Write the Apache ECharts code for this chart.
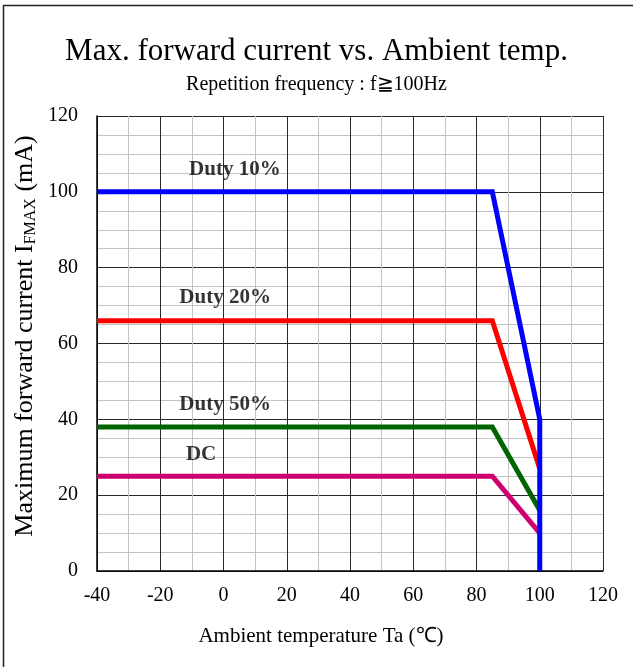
<!DOCTYPE html>
<html>
<head>
<meta charset="utf-8">
<script src="https://cdn.jsdelivr.net/npm/echarts@6/dist/echarts.min.js"></script>
<style>html,body{margin:0;padding:0;background:#fff;}#c{width:633px;height:667px;}</style>
</head>
<body>
<div id="c"></div>
<script>
const xTicks = [-40, -20, 0, 20, 40, 60, 80, 100, 120];
const yTicks = [0, 20, 40, 60, 80, 100, 120];
const duty10 = [[-40, 100], [85, 100], [100, 40], [100, 0]];
const duty20 = [[-40, 66], [85, 66], [100, 27]];
const duty50 = [[-40, 38], [85, 38], [100, 16]];
const dcData = [[-40, 25], [85, 25], [100, 10]];
const labelNames = ['Duty 10%', 'Duty 20%', 'Duty 50%', 'DC'];
const labelPos = [[3.6, 105.8], [0.5, 72], [0.5, 44], [-7.1, 30.7]];

const serif = 'Liberation Serif, Times New Roman, serif';
const chart = echarts.init(document.getElementById('c'));

function lineSeries(name, data, color) {
  return {
    name: name, type: 'line', data: data, symbol: 'none', silent: true,
    lineStyle: { color: color, width: 5, join: 'miter' }, z: 3
  };
}

chart.setOption({
  backgroundColor: '#fff',
  animation: false,
  title: [
    { text: 'Max. forward current vs. Ambient temp.', left: 'center', top: 31,
      textStyle: { fontFamily: serif, fontSize: 31, fontWeight: 'normal', color: '#000' } },
    { text: 'Repetition frequency : f≧100Hz', left: 'center', top: 70,
      textStyle: { fontFamily: serif, fontSize: 20, fontWeight: 'normal', color: '#000' } }
  ],
  graphic: [
    { type: 'polyline', shape: { points: [[3.5, 667], [3.5, 5.5], [633, 5.5]] },
      style: { fill: 'none', stroke: '#222', lineWidth: 1.5 }, silent: true },
    { type: 'text', x: 25, y: 336, rotation: Math.PI / 2, silent: true,
      style: { text: '{m|Maximum forward current I}{s|FMAX}{m| (mA)}', align: 'center', verticalAlign: 'middle',
        rich: { m: { fontFamily: serif, fontSize: 26, fill: '#000', lineHeight: 28, verticalAlign: 'middle' },
                s: { fontFamily: serif, fontSize: 16, fill: '#000', lineHeight: 28, verticalAlign: 'bottom', padding: [10, 0, 0, 0] } } } }
  ],
  grid: { left: 97, right: 30, top: 116, bottom: 96, containLabel: false },
  xAxis: {
    type: 'value', min: xTicks[0], max: xTicks[xTicks.length - 1], interval: 20,
    name: 'Ambient temperature Ta (℃)', nameLocation: 'middle', nameGap: 55,
    nameTextStyle: { fontFamily: serif, fontSize: 21, color: '#000', padding: [0, 58, 0, 0] },
    axisLine: { show: true, onZero: false, lineStyle: { color: '#000', width: 1.5 } },
    axisTick: { show: false },
    axisLabel: { fontFamily: serif, fontSize: 20, color: '#000', margin: 15 },
    splitLine: { show: true, lineStyle: { color: '#2a2a2a', width: 1 } },
    minorTick: { show: false, splitNumber: 2 },
    minorSplitLine: { show: true, lineStyle: { color: '#c4c4c4', width: 1 } }
  },
  yAxis: {
    type: 'value', min: yTicks[0], max: yTicks[yTicks.length - 1], interval: 20,
    axisLine: { show: true, onZero: false, lineStyle: { color: '#000', width: 1.5 } },
    axisTick: { show: false },
    axisLabel: { fontFamily: serif, fontSize: 20, color: '#000', margin: 19 },
    splitLine: { show: true, lineStyle: { color: '#2a2a2a', width: 1 } },
    minorTick: { show: false, splitNumber: 4 },
    minorSplitLine: { show: true, lineStyle: { color: '#c4c4c4', width: 1 } }
  },
  series: [
    lineSeries('Duty 20%', duty20, '#ff0000'),
    lineSeries('Duty 50%', duty50, '#006400'),
    lineSeries('DC', dcData, '#cc0070'),
    lineSeries('Duty 10%', duty10, '#0000ff'),
    {
      type: 'scatter', symbolSize: 0, silent: true, z: 5,
      data: labelNames.map((n, i) => ({ name: n, value: labelPos[i] })),
      label: { show: true, position: 'inside', formatter: p => p.name,
        fontFamily: serif, fontSize: 21, fontWeight: 'bold', color: '#000' }
    }
  ]
});
</script>
</body>
</html>
